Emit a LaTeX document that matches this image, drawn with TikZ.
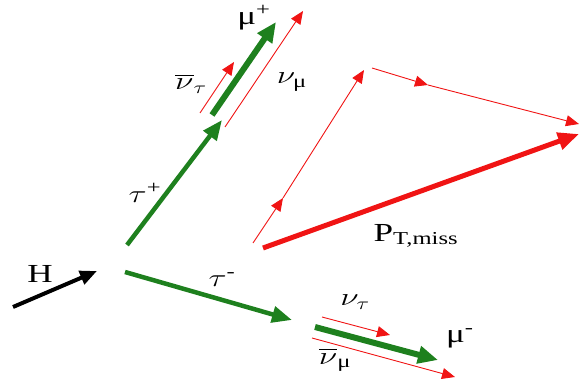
\documentclass[tikz,border=0pt]{standalone}
\usepackage{amsmath}
\usepackage{fontspec}
\setmainfont{Liberation Serif}
\usetikzlibrary{arrows.meta}
\definecolor{pgreen}{RGB}{30,128,30}
\definecolor{pred}{RGB}{240,20,20}
\newcommand{\g}[1]{\text{#1}}
\begin{document}
\begin{tikzpicture}[x=1pt,y=-1pt,
  lbl/.style={inner sep=0pt, font=\fontsize{26}{30}\selectfont, xscale=1.35},
  higgs/.style={draw=black, line width=4pt, -{Triangle[length=17pt,width=14pt]}},
  tauarr/.style={draw=pgreen, line width=4.5pt, -{Triangle[length=20pt,width=16pt]}},
  muarr/.style={draw=pgreen, line width=6pt, -{Triangle[length=20pt,width=17pt]}},
  nuarr/.style={draw=pred, line width=0.9pt, -{Triangle[length=13pt,width=11pt]}},
  missarr/.style={draw=pred, line width=5pt, -{Triangle[length=21pt,width=17pt]}}]
\useasboundingbox (0,0) rectangle (579,379);
% coordinates
\coordinate (h0) at (13,307);
\coordinate (h1) at (97,271);
\coordinate (tm0) at (125,272);
\coordinate (tm1) at (292,320);
\coordinate (tp0) at (127,245);
\coordinate (tp1) at (222,120);
\coordinate (mp0) at (212,115);
\coordinate (mp1) at (276,22);
\coordinate (nbt0) at (200,113);
\coordinate (nbt1) at (234,62);
\coordinate (nm0) at (225,127);
\coordinate (nm1) at (303,11);
\coordinate (s0) at (253,243);
\coordinate (s1) at (283,198);
\coordinate (s2) at (364,70);
\coordinate (s3) at (372,68);
\coordinate (s4) at (428,85);
\coordinate (s5) at (579,124);
\coordinate (pm0) at (263,248);
\coordinate (pm1) at (579,134);
\coordinate (nt0) at (322,317);
\coordinate (nt1) at (390,335);
\coordinate (mm0) at (315,327);
\coordinate (mm1) at (438,360);
\coordinate (nbm0) at (312,338);
\coordinate (nbm1) at (455,377);
% arrows
\draw[higgs] (h0) -- (h1);
\draw[tauarr] (tm0) -- (tm1);
\draw[tauarr] (tp0) -- (tp1);
\draw[muarr] (mp0) -- (mp1);
\draw[nuarr] (nbt0) -- (nbt1);
\draw[nuarr] (nm0) -- (nm1);
\draw[nuarr] (s0) -- (s1);
\draw[nuarr] (s1) -- (s2);
\draw[nuarr] (s3) -- (s4);
\draw[nuarr] (s4) -- (s5);
\draw[missarr] (pm0) -- (pm1);
\draw[nuarr] (nt0) -- (nt1);
\draw[muarr] (mm0) -- (mm1);
\draw[nuarr] (nbm0) -- (nbm1);
% labels
\node[lbl] (lH) at (40,274) {H};
\node[lbl] (ltm) at (222,280) {$\tau^{\g{-}}$};
\node[lbl] (ltp) at (145,193) {$\tau^{\g{+}}$};
\node[lbl] (lmp) at (254,18) {μ$^{\g{+}}$};
\node[lbl] (lnbt) at (191,84) {$\overline{\nu}_{\tau}$};
\node[lbl] (lnm) at (292,82) {$\nu_{\g{μ}}$};
\node[lbl] (lpm) at (416,236) {P$_{\g{T,miss}}$};
\node[lbl] (lnt) at (355,302) {$\nu_{\tau}$};
\node[lbl] (lmm) at (460,338) {μ$^{\g{-}}$};
\node[lbl] (lnbm) at (335,360) {$\overline{\nu}_{\g{μ}}$};
\end{tikzpicture}
\end{document}
